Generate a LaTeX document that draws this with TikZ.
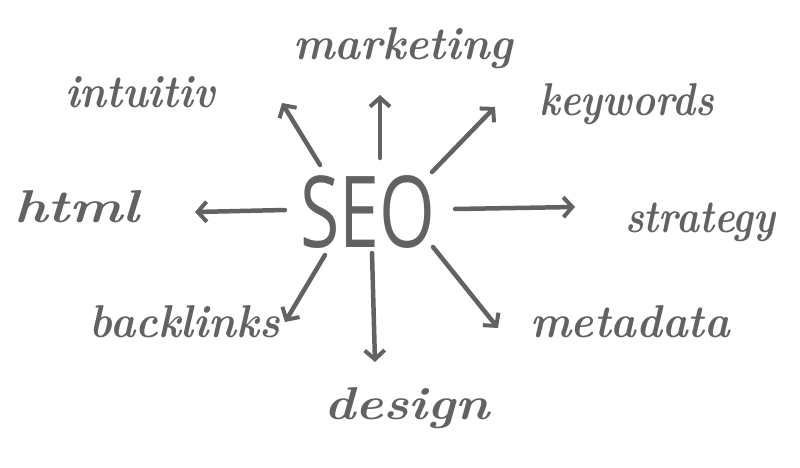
\documentclass[tikz,border=0pt]{standalone}
\usepackage{fontspec}
\usetikzlibrary{arrows.meta}
\setmainfont{Latin Modern Roman}
\newfontfamily\seofont{Open Sans}
\definecolor{ink}{HTML}{626262}
\newcommand{\hw}[2]{\resizebox{#1}{\height}{\fontsize{46}{46}\selectfont\bfseries\itshape #2}}
\begin{document}
\begin{tikzpicture}[x=1pt,y=-1pt,
  word/.style={text=ink,inner sep=0pt},
  arr/.style={draw=ink,line width=4.5pt,line cap=round,line join=round,
    -{Straight Barb[length=9pt,width=20pt,line width=4pt]}}]
\useasboundingbox (0,0) rectangle (800,468);
\node[text=ink,inner sep=0pt] (seo) at (368,212) {\resizebox{135pt}{72pt}{\seofont SEO}};
\node[word] (marketing) at (403,48) {\hw{220pt}{marketing}};
\node[word] (intuitiv) at (140,92) {\hw{150pt}{intuitiv}};
\node[word] (keywords) at (627,104) {\hw{175pt}{keywords}};
\node[word] (html) at (77,207) {\hw{125pt}{html}};
\node[word] (strategy) at (700,222) {\hw{150pt}{strategy}};
\node[word] (backlinks) at (185,322) {\hw{190pt}{backlinks}};
\node[word] (metadata) at (630,322) {\hw{200pt}{metadata}};
\node[word] (design) at (407,408) {\hw{165pt}{design}};
\coordinate (s1) at (320,165); \coordinate (e1) at (282,103);
\coordinate (s2) at (380,158); \coordinate (e2) at (380,95);
\coordinate (s3) at (432,172); \coordinate (e3) at (495,107);
\coordinate (s4) at (285,210); \coordinate (e4) at (195,212);
\coordinate (s5) at (455,209); \coordinate (e5) at (575,207);
\coordinate (s6) at (325,255); \coordinate (e6) at (285,322);
\coordinate (s7) at (372,253); \coordinate (e7) at (375,362);
\coordinate (s8) at (433,247); \coordinate (e8) at (498,328);
\foreach \i in {1,...,8} \draw[arr] (s\i) -- (e\i);
\end{tikzpicture}
\end{document}
